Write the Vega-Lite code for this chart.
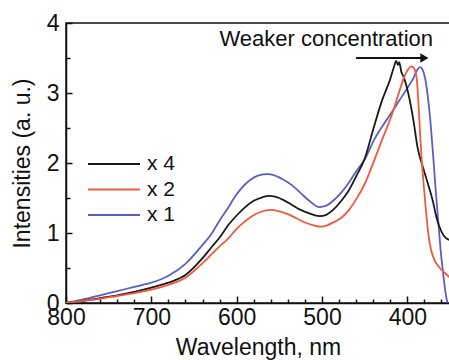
{
  "$schema": "https://vega.github.io/schema/vega-lite/v6.json",
  "width": 384,
  "height": 280,
  "autosize": {"type": "none"},
  "padding": {"left": 66, "top": 23, "right": 0, "bottom": 57},
  "background": "white",
  "config": {
    "font": "Liberation Sans",
    "view": {"stroke": "#111", "strokeWidth": 1.5},
    "axis": {
      "domainColor": "#111", "domainWidth": 1.5, "tickColor": "#111", "tickWidth": 1.5,
      "labelColor": "#111", "titleColor": "#111", "labelFontSize": 23, "titleFontSize": 23,
      "titleFontWeight": "normal", "grid": false
    }
  },
  "resolve": {"axis": {"x": "independent", "y": "independent"}},
  "datasets": {
    "spectra": [
      {"wl": 800, "v": 0.00, "s": "x 1"}, {"wl": 780, "v": 0.05, "s": "x 1"}, {"wl": 760, "v": 0.11, "s": "x 1"},
      {"wl": 740, "v": 0.17, "s": "x 1"}, {"wl": 720, "v": 0.23, "s": "x 1"}, {"wl": 700, "v": 0.29, "s": "x 1"},
      {"wl": 680, "v": 0.39, "s": "x 1"}, {"wl": 660, "v": 0.56, "s": "x 1"}, {"wl": 640, "v": 0.83, "s": "x 1"},
      {"wl": 630, "v": 0.98, "s": "x 1"}, {"wl": 620, "v": 1.18, "s": "x 1"}, {"wl": 610, "v": 1.36, "s": "x 1"},
      {"wl": 603, "v": 1.50, "s": "x 1"}, {"wl": 595, "v": 1.63, "s": "x 1"}, {"wl": 585, "v": 1.75, "s": "x 1"},
      {"wl": 575, "v": 1.82, "s": "x 1"}, {"wl": 564, "v": 1.84, "s": "x 1"}, {"wl": 555, "v": 1.82, "s": "x 1"},
      {"wl": 545, "v": 1.76, "s": "x 1"}, {"wl": 535, "v": 1.68, "s": "x 1"}, {"wl": 525, "v": 1.57, "s": "x 1"},
      {"wl": 515, "v": 1.46, "s": "x 1"}, {"wl": 503, "v": 1.37, "s": "x 1"}, {"wl": 495, "v": 1.39, "s": "x 1"},
      {"wl": 487, "v": 1.46, "s": "x 1"}, {"wl": 478, "v": 1.57, "s": "x 1"}, {"wl": 469, "v": 1.71, "s": "x 1"},
      {"wl": 460, "v": 1.88, "s": "x 1"}, {"wl": 450, "v": 2.05, "s": "x 1"}, {"wl": 439, "v": 2.33, "s": "x 1"},
      {"wl": 429, "v": 2.53, "s": "x 1"}, {"wl": 419, "v": 2.71, "s": "x 1"}, {"wl": 409, "v": 2.90, "s": "x 1"},
      {"wl": 399, "v": 3.09, "s": "x 1"}, {"wl": 393, "v": 3.21, "s": "x 1"}, {"wl": 388, "v": 3.34, "s": "x 1"},
      {"wl": 385, "v": 3.37, "s": "x 1"}, {"wl": 382, "v": 3.33, "s": "x 1"}, {"wl": 379, "v": 3.20, "s": "x 1"},
      {"wl": 376, "v": 2.95, "s": "x 1"}, {"wl": 373, "v": 2.60, "s": "x 1"}, {"wl": 370, "v": 2.15, "s": "x 1"},
      {"wl": 367, "v": 1.65, "s": "x 1"}, {"wl": 364, "v": 1.20, "s": "x 1"}, {"wl": 361, "v": 0.76, "s": "x 1"},
      {"wl": 358, "v": 0.42, "s": "x 1"}, {"wl": 355.5, "v": 0.17, "s": "x 1"}, {"wl": 353, "v": 0.00, "s": "x 1"},

      {"wl": 800, "v": 0.00, "s": "x 4"}, {"wl": 780, "v": 0.03, "s": "x 4"}, {"wl": 760, "v": 0.07, "s": "x 4"},
      {"wl": 740, "v": 0.11, "s": "x 4"}, {"wl": 720, "v": 0.16, "s": "x 4"}, {"wl": 700, "v": 0.22, "s": "x 4"},
      {"wl": 680, "v": 0.29, "s": "x 4"}, {"wl": 660, "v": 0.40, "s": "x 4"}, {"wl": 640, "v": 0.64, "s": "x 4"},
      {"wl": 630, "v": 0.79, "s": "x 4"}, {"wl": 619, "v": 0.95, "s": "x 4"}, {"wl": 610, "v": 1.11, "s": "x 4"},
      {"wl": 600, "v": 1.25, "s": "x 4"}, {"wl": 590, "v": 1.37, "s": "x 4"}, {"wl": 580, "v": 1.46, "s": "x 4"},
      {"wl": 570, "v": 1.51, "s": "x 4"}, {"wl": 562, "v": 1.53, "s": "x 4"}, {"wl": 555, "v": 1.52, "s": "x 4"},
      {"wl": 545, "v": 1.47, "s": "x 4"}, {"wl": 535, "v": 1.40, "s": "x 4"}, {"wl": 525, "v": 1.33, "s": "x 4"},
      {"wl": 515, "v": 1.28, "s": "x 4"}, {"wl": 503, "v": 1.24, "s": "x 4"}, {"wl": 495, "v": 1.26, "s": "x 4"},
      {"wl": 487, "v": 1.33, "s": "x 4"}, {"wl": 478, "v": 1.45, "s": "x 4"}, {"wl": 469, "v": 1.60, "s": "x 4"},
      {"wl": 460, "v": 1.81, "s": "x 4"}, {"wl": 450, "v": 2.06, "s": "x 4"}, {"wl": 440, "v": 2.48, "s": "x 4"},
      {"wl": 430, "v": 2.88, "s": "x 4"}, {"wl": 420, "v": 3.20, "s": "x 4"}, {"wl": 416, "v": 3.36, "s": "x 4"},
      {"wl": 413, "v": 3.46, "s": "x 4"}, {"wl": 411, "v": 3.40, "s": "x 4"}, {"wl": 409.5, "v": 3.44, "s": "x 4"},
      {"wl": 407, "v": 3.30, "s": "x 4"}, {"wl": 404, "v": 3.22, "s": "x 4"}, {"wl": 399, "v": 3.00, "s": "x 4"},
      {"wl": 393, "v": 2.62, "s": "x 4"}, {"wl": 388, "v": 2.22, "s": "x 4"}, {"wl": 382, "v": 1.95, "s": "x 4"},
      {"wl": 376, "v": 1.71, "s": "x 4"}, {"wl": 370, "v": 1.45, "s": "x 4"}, {"wl": 366, "v": 1.23, "s": "x 4"},
      {"wl": 360, "v": 1.02, "s": "x 4"}, {"wl": 355, "v": 0.93, "s": "x 4"}, {"wl": 350, "v": 0.90, "s": "x 4"},

      {"wl": 800, "v": 0.00, "s": "x 2"}, {"wl": 780, "v": 0.03, "s": "x 2"}, {"wl": 760, "v": 0.06, "s": "x 2"},
      {"wl": 740, "v": 0.10, "s": "x 2"}, {"wl": 720, "v": 0.14, "s": "x 2"}, {"wl": 700, "v": 0.19, "s": "x 2"},
      {"wl": 680, "v": 0.26, "s": "x 2"}, {"wl": 660, "v": 0.36, "s": "x 2"}, {"wl": 640, "v": 0.57, "s": "x 2"},
      {"wl": 630, "v": 0.69, "s": "x 2"}, {"wl": 620, "v": 0.81, "s": "x 2"}, {"wl": 610, "v": 0.92, "s": "x 2"},
      {"wl": 600, "v": 1.06, "s": "x 2"}, {"wl": 590, "v": 1.17, "s": "x 2"}, {"wl": 582, "v": 1.24, "s": "x 2"},
      {"wl": 572, "v": 1.30, "s": "x 2"}, {"wl": 560, "v": 1.33, "s": "x 2"}, {"wl": 550, "v": 1.31, "s": "x 2"},
      {"wl": 540, "v": 1.27, "s": "x 2"}, {"wl": 530, "v": 1.21, "s": "x 2"}, {"wl": 520, "v": 1.15, "s": "x 2"},
      {"wl": 510, "v": 1.11, "s": "x 2"}, {"wl": 501, "v": 1.09, "s": "x 2"}, {"wl": 494, "v": 1.11, "s": "x 2"},
      {"wl": 487, "v": 1.15, "s": "x 2"}, {"wl": 478, "v": 1.21, "s": "x 2"}, {"wl": 469, "v": 1.32, "s": "x 2"},
      {"wl": 460, "v": 1.48, "s": "x 2"}, {"wl": 450, "v": 1.70, "s": "x 2"}, {"wl": 439, "v": 2.03, "s": "x 2"},
      {"wl": 430, "v": 2.32, "s": "x 2"}, {"wl": 419, "v": 2.66, "s": "x 2"}, {"wl": 410, "v": 3.00, "s": "x 2"},
      {"wl": 404, "v": 3.22, "s": "x 2"}, {"wl": 399, "v": 3.34, "s": "x 2"}, {"wl": 395, "v": 3.38, "s": "x 2"},
      {"wl": 392, "v": 3.35, "s": "x 2"}, {"wl": 389, "v": 3.20, "s": "x 2"}, {"wl": 386.5, "v": 2.75, "s": "x 2"},
      {"wl": 384, "v": 2.20, "s": "x 2"}, {"wl": 381, "v": 1.71, "s": "x 2"}, {"wl": 378, "v": 1.30, "s": "x 2"},
      {"wl": 375, "v": 0.95, "s": "x 2"}, {"wl": 372, "v": 0.75, "s": "x 2"}, {"wl": 368, "v": 0.61, "s": "x 2"},
      {"wl": 362, "v": 0.50, "s": "x 2"}, {"wl": 356, "v": 0.43, "s": "x 2"}, {"wl": 350, "v": 0.36, "s": "x 2"}
    ]
  },
  "layer": [
    {
      "data": {"name": "spectra"},
      "mark": {"type": "line", "interpolate": "monotone", "strokeWidth": 1.8, "clip": true},
      "encoding": {
        "x": {
          "field": "wl", "type": "quantitative",
          "scale": {"domain": [350, 800], "reverse": true, "nice": false, "zero": false},
          "axis": {
            "orient": "bottom", "title": "Wavelength, nm", "values": [400, 500, 600, 700, 800],
            "labelOverlap": false, "labelBound": false, "labelFlush": false, "format": "d",
            "tickSize": -7, "labelPadding": 10, "titlePadding": 7
          }
        },
        "y": {
          "field": "v", "type": "quantitative",
          "scale": {"domain": [0, 4], "nice": false},
          "axis": {
            "orient": "left", "title": "Intensities (a. u.)", "values": [0, 1, 2, 3, 4],
            "labelOverlap": false, "labelBound": false, "labelFlush": false, "format": "d",
            "tickSize": -6, "labelPadding": 13, "titlePadding": 12
          }
        },
        "color": {
          "field": "s", "type": "nominal",
          "scale": {"domain": ["x 4", "x 2", "x 1"], "range": ["#1a1a1a", "#ee5a3a", "#5a5fc0"]},
          "legend": {
            "title": null, "orient": "none", "legendX": 21, "legendY": 131,
            "symbolType": "stroke", "symbolSize": 2704, "symbolStrokeWidth": 1.8,
            "clipHeight": 20, "rowPadding": 4.5, "labelFontSize": 21, "labelColor": "#111", "labelOffset": 6
          }
        },
        "order": {"field": "wl", "sort": "descending"}
      }
    },
    {
      "data": {"values": [{"label": "Weaker concentration", "wl": 495, "v": 3.77}]},
      "mark": {"type": "text", "fontSize": 22, "color": "#111", "align": "center", "baseline": "middle"},
      "encoding": {
        "x": {"field": "wl", "type": "quantitative", "axis": {"orient": "bottom", "values": [360,380,420,440,460,480,520,540,560,580,620,640,660,680,720,740,760,780], "labels": false, "domain": false, "tickSize": -4, "title": null}},
        "y": {"field": "v", "type": "quantitative", "axis": {"orient": "left", "values": [0.5,1.5,2.5,3.5], "labels": false, "domain": false, "tickSize": -4, "title": null}},
        "text": {"field": "label"}
      }
    },
    {
      "data": {"values": [{"from": 460, "to": 382, "v": 3.5}]},
      "mark": {"type": "rule", "strokeWidth": 2, "color": "#111"},
      "encoding": {
        "x": {"field": "from", "type": "quantitative", "axis": null},
        "x2": {"field": "to"},
        "y": {"field": "v", "type": "quantitative", "axis": null}
      }
    },
    {
      "data": {"values": [{"wl": 380, "v": 3.5}]},
      "mark": {"type": "point", "shape": "triangle-right", "filled": true, "size": 90, "color": "#111", "opacity": 1},
      "encoding": {
        "x": {"field": "wl", "type": "quantitative", "axis": null},
        "y": {"field": "v", "type": "quantitative", "axis": null}
      }
    }
  ]
}
